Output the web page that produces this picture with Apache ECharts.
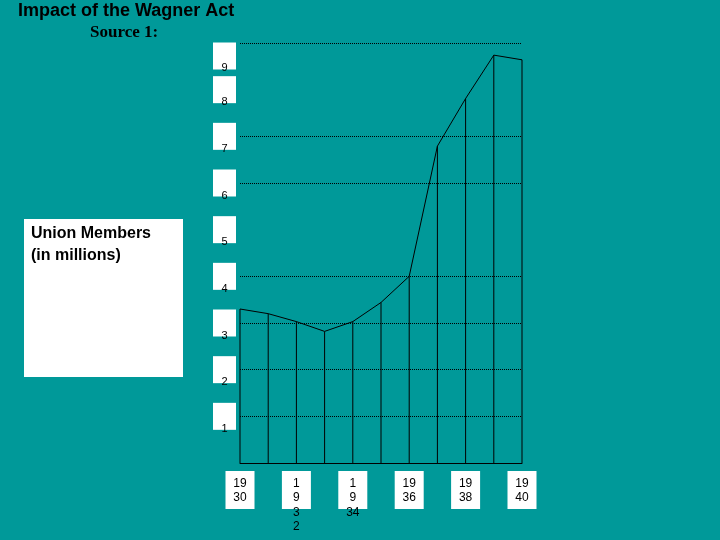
<!DOCTYPE html>
<html>
<head>
<meta charset="utf-8">
<script src="https://cdn.jsdelivr.net/npm/echarts@6/dist/echarts.min.js"></script>
<style>
  html, body { margin: 0; padding: 0; background: #009999; }
  #main { width: 720px; height: 540px; }
</style>
</head>
<body>
<div id="main"></div>
<script>
// data
var years = ['1930', '1931', '1932', '1933', '1934', '1935', '1936', '1937', '1938', '1939', '1940'];
var members = [3.30, 3.20, 3.03, 2.82, 3.03, 3.44, 4.00, 6.79, 7.81, 8.74, 8.64];
// tick labels as they are broken in the original
var xTickLabels = ['19\n30', '', '1\n9\n3\n2', '', '1\n9\n34', '', '19\n36', '', '19\n38', '', '19\n40'];
// dotted grid lines that are actually drawn (5 and 8 are missing)
var gridValues = [1, 2, 3, 4, 6, 7, 9];

var sans = 'Arial, "Liberation Sans", sans-serif';
var serif = '"Times New Roman", "Liberation Serif", serif';

var chart = echarts.init(document.getElementById('main'));

var option = {
    backgroundColor: '#009999',
    animation: false,
    title: [{
        text: 'Impact of the Wagner Act',
        left: 18, top: 2, padding: 0,
        textStyle: { fontFamily: sans, fontSize: 18, fontWeight: 'bold', color: '#000' }
    }, {
        text: 'Source 1:',
        left: 90, top: 24, padding: 0,
        textStyle: { fontFamily: serif, fontSize: 17, fontWeight: 'bold', color: '#000' }
    }],
    graphic: [{
        type: 'group',
        left: 24, top: 219,
        children: [{
            type: 'rect',
            shape: { x: 0, y: 0, width: 159, height: 158 },
            style: { fill: '#fff' }
        }, {
            type: 'text',
            x: 7, y: 4,
            style: {
                text: 'Union Members\n(in millions)',
                font: 'bold 16px ' + sans,
                lineHeight: 22,
                fill: '#000'
            }
        }]
    }],
    grid: { left: 240, right: 198, top: 43, bottom: 77 },
    xAxis: [{
        // white boxes behind the year labels
        type: 'category',
        data: years,
        boundaryGap: false,
        position: 'bottom',
        axisLine: { show: true, lineStyle: { color: '#000', width: 1 } },
        axisTick: { show: false },
        splitLine: { show: false },
        axisLabel: {
            interval: 0,
            margin: 8,
            formatter: function (v, i) { return xTickLabels[i] ? '{b| }' : ''; },
            rich: { b: { backgroundColor: '#fff', width: 29, height: 38 } }
        }
    }, {
        // year text on top of the boxes
        type: 'category',
        data: years,
        boundaryGap: false,
        position: 'bottom',
        axisLine: { show: false },
        axisTick: { show: false },
        splitLine: { show: false },
        axisLabel: {
            interval: 0,
            margin: 13,
            color: '#000',
            fontFamily: sans,
            fontSize: 12,
            lineHeight: 14.5,
            formatter: function (v, i) { return xTickLabels[i]; }
        }
    }],
    yAxis: [{
        // white boxes behind the value labels
        type: 'value',
        min: 0, max: 9, interval: 1,
        position: 'left',
        axisLine: { show: false },
        axisTick: { show: false },
        splitLine: { show: false },
        axisLabel: {
            margin: 4,
            verticalAlign: 'middle',
            formatter: function (v) {
                if (v === 0) return '';
                if (v === 9) return '{g| }\n{b| }';
                return '{b| }';
            },
            rich: {
                g: { height: 26, width: 23 },
                b: { backgroundColor: '#fff', width: 23, height: 27 }
            }
        }
    }, {
        // value text, sitting at the bottom of each box
        type: 'value',
        min: 0, max: 9, interval: 1,
        position: 'left',
        axisLine: { show: false },
        axisTick: { show: false },
        splitLine: { show: false },
        axisLabel: {
            margin: 15.5,
            align: 'center',
            verticalAlign: 'top',
            color: '#000',
            fontFamily: sans,
            fontSize: 11,
            formatter: function (v) {
                if (v === 0) return '';
                if (v === 9) return '{t9|9}';
                return '{t|' + v + '}';
            },
            rich: {
                t: { padding: [7, 0, 0, 0], fontFamily: sans, fontSize: 11, color: '#000' },
                t9: { padding: [19, 0, 0, 0], fontFamily: sans, fontSize: 11, color: '#000' }
            }
        }
    }],
    series: [{
        // drop lines from each point to the base
        type: 'bar',
        data: members,
        barWidth: 1,
        itemStyle: { color: '#000' },
        silent: true
    }, {
        type: 'line',
        data: members,
        symbol: 'none',
        lineStyle: { color: '#000', width: 1 },
        z: 3,
        markLine: {
            silent: true,
            symbol: 'none',
            label: { show: false },
            lineStyle: { color: '#000', type: 'dotted', width: 1 },
            data: gridValues.map(function (v) { return { yAxis: v }; })
        }
    }]
};

chart.setOption(option);
</script>
</body>
</html>
